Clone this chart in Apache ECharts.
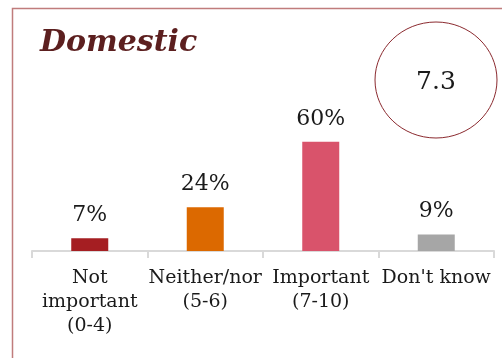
<!DOCTYPE html>
<html>
<head>
<meta charset="utf-8">
<style>
  html, body { margin: 0; padding: 0; background: #ffffff; }
  #chart { width: 502px; height: 358px; }
</style>
<script src="https://cdn.jsdelivr.net/npm/echarts@6/dist/echarts.min.js"></script>
</head>
<body>
<div id="chart"></div>
<script>
// Importance ratings, domestic respondents
const categories = ['Not\nimportant\n(0-4)', 'Neither/nor\n(5-6)', 'Important\n(7-10)', "Don't know"];
const shares = [7, 24, 60, 9];
const barColors = ['#a51e22', '#dc6900', '#d9536b', '#a6a6a6'];
const meanScore = '7.3';
const panelTitle = 'Domestic';

const serif = '"DejaVu Serif", "Liberation Serif", serif';
const chart = echarts.init(document.getElementById('chart'));

chart.setOption({
  animation: false,
  backgroundColor: '#ffffff',
  grid: { left: 32, right: 8, top: 69, bottom: 107 },
  xAxis: {
    type: 'category',
    data: categories,
    axisLine: { lineStyle: { color: '#d9d9d9', width: 2 } },
    axisTick: { show: true, length: 7, lineStyle: { color: '#d9d9d9', width: 2 } },
    axisLabel: {
      color: '#1a1a1a',
      fontFamily: serif,
      fontSize: 19,
      lineHeight: 24,
      margin: 15,
      interval: 0
    }
  },
  yAxis: {
    type: 'value',
    min: 0,
    max: 100,
    show: false,
    splitLine: { show: false }
  },
  series: [{
    type: 'bar',
    barWidth: 37,
    data: shares.map((v, i) => ({ value: v, itemStyle: { color: barColors[i] } })),
    label: {
      show: true,
      position: 'top',
      distance: 12,
      formatter: '{c}%',
      color: '#1a1a1a',
      fontFamily: serif,
      fontSize: 22
    }
  }],
  graphic: [
    {
      type: 'rect',
      shape: { x: 12.5, y: 8.5, width: 520, height: 380 },
      style: { fill: 'none', stroke: '#c07c7c', lineWidth: 1.5 },
      silent: true
    },
    {
      type: 'text',
      left: 40,
      top: 28,
      style: {
        text: panelTitle,
        fill: '#5c1f1f',
        font: 'italic bold 30px ' + serif
      }
    },
    {
      type: 'ellipse',
      shape: { cx: 436, cy: 80, rx: 61, ry: 58 },
      style: { fill: 'none', stroke: '#8b2a2f', lineWidth: 1 }
    },
    {
      type: 'text',
      x: 436,
      y: 82,
      style: {
        text: meanScore,
        fill: '#1a1a1a',
        font: '25px ' + serif,
        align: 'center',
        verticalAlign: 'middle'
      }
    }
  ]
});
</script>
</body>
</html>
